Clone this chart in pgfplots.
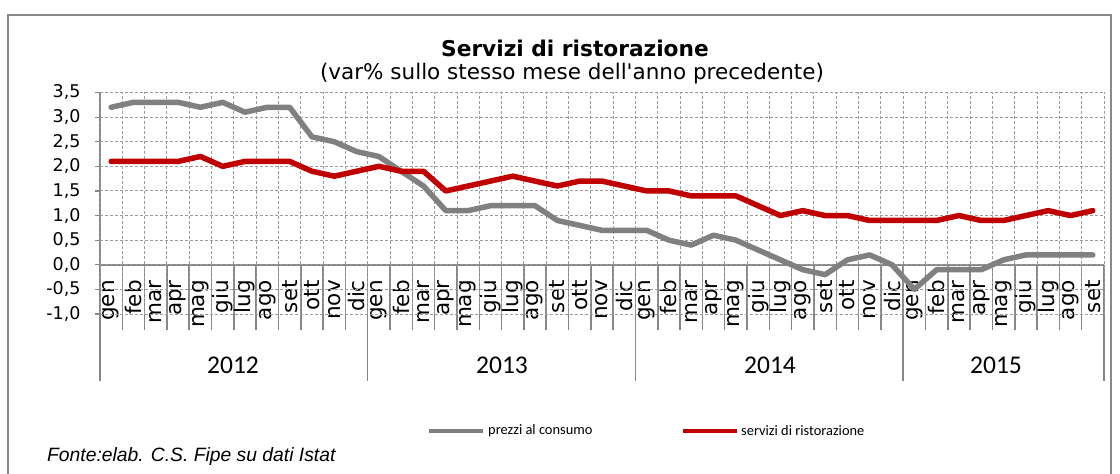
\documentclass[border=0pt]{standalone}
\usepackage{fontspec}
\setmainfont{DejaVu Sans}
\newfontfamily\calfont{Carlito}
\newfontfamily\arialfont{Liberation Sans}
\usepackage{pgfplots}
\pgfplotsset{compat=1.18}
\definecolor{cpi}{RGB}{128,128,128}
\definecolor{rist}{RGB}{192,0,0}
\definecolor{axgray}{RGB}{134,134,134}
\definecolor{gridgray}{RGB}{155,155,155}
\definecolor{framegray}{RGB}{137,137,137}
\begin{document}
\begin{tikzpicture}[x=1pt,y=1pt]
\useasboundingbox (0,0) rectangle (1120,474);
\draw[framegray, line width=1.3pt] (8,-10) -- (8,459) -- (1111,459) -- (1111,-10);
% titles
\node[anchor=base, inner sep=0pt, font=\fontsize{21.7}{24}\selectfont\bfseries] at (575,417) {Servizi di ristorazione};
\node[anchor=base, inner sep=0pt, font=\fontsize{21.5}{24}\selectfont] at (572,394) {(var\% sullo stesso mese dell\textquotesingle anno precedente)};
% category axis decorations
\def\cw{22.3111}
\foreach \k in {1,...,44} \draw[axgray, line width=1.5pt] ({100+\cw*\k},209) -- ({100+\cw*\k},144);
\foreach \k in {0,12,24,36,45} \draw[axgray, line width=1.5pt] ({100+\cw*\k},209) -- ({100+\cw*\k},93);
\draw[axgray, line width=1.5pt] (100,381.5) -- (100,93);
\draw[axgray, line width=1.5pt] (100,209) -- (1104,209);
\foreach \v in {0,...,9} \draw[axgray, line width=1.2pt] (95,{160+24.611*\v}) -- (100,{160+24.611*\v});
\foreach \m [count=\i from 0] in {gen,feb,mar,apr,mag,giu,lug,ago,set,ott,nov,dic,gen,feb,mar,apr,mag,giu,lug,ago,set,ott,nov,dic,gen,feb,mar,apr,mag,giu,lug,ago,set,ott,nov,dic,gen,feb,mar,apr,mag,giu,lug,ago,set}
  \node[rotate=90, anchor=east, inner sep=0pt, font=\fontsize{21.5}{22}\selectfont] at ({100+\cw*(\i+0.5)},194) {\m};
\node[font=\calfont\fontsize{25.5}{27}\selectfont] at (233,109) {2012};
\node[font=\calfont\fontsize{25.5}{27}\selectfont] at (502,109) {2013};
\node[font=\calfont\fontsize{25.5}{27}\selectfont] at (770,109) {2014};
\node[font=\calfont\fontsize{25.5}{27}\selectfont] at (996,109) {2015};
% legend
\draw[cpi, line width=3.5pt] (429,43) -- (483,43);
\node[anchor=west, inner sep=0pt, font=\calfont\fontsize{14.4}{15}\selectfont] at (488,43) {prezzi al consumo};
\draw[rist, line width=3.5pt] (683,43) -- (737,43);
\node[anchor=west, inner sep=0pt, font=\calfont\fontsize{14.4}{15}\selectfont] at (741,43) {servizi di ristorazione};
% source
\node[anchor=base west, inner sep=0pt, font=\arialfont\itshape\fontsize{19.3}{20}\selectfont] at (47,12) {Fonte:elab. C.S. Fipe su dati Istat};
\begin{axis}[at={(100pt,160pt)}, anchor=south west, scale only axis,
  width=1004pt, height=221.5pt,
  xmin=-0.5, xmax=44.5, ymin=-1, ymax=3.5,
  axis line style={draw=none}, major tick length=0pt,
  xtick={-0.5,0.5,...,44.5}, xticklabels={},
  ytick={-1,-0.5,0,0.5,1,1.5,2,2.5,3,3.5},
  grid=major, grid style={gridgray, dash pattern=on 3pt off 2pt, line width=0.9pt},
  yticklabel style={anchor=east, xshift=-16pt, font=\fontsize{17.5}{19}\selectfont,
    /pgf/number format/.cd, fixed, fixed zerofill, precision=1, use comma, assume math mode=true}]
\addplot[cpi, line width=5.5pt, line join=round, line cap=round] coordinates {
(0,3.2)(1,3.3)(2,3.3)(3,3.3)(4,3.2)(5,3.3)(6,3.1)(7,3.2)(8,3.2)(9,2.6)(10,2.5)(11,2.3)
(12,2.2)(13,1.9)(14,1.6)(15,1.1)(16,1.1)(17,1.2)(18,1.2)(19,1.2)(20,0.9)(21,0.8)(22,0.7)(23,0.7)
(24,0.7)(25,0.5)(26,0.4)(27,0.6)(28,0.5)(29,0.3)(30,0.1)(31,-0.1)(32,-0.2)(33,0.1)(34,0.2)(35,0.0)
(36,-0.5)(37,-0.1)(38,-0.1)(39,-0.1)(40,0.1)(41,0.2)(42,0.2)(43,0.2)(44,0.2)};
\addplot[rist, line width=5.5pt, line join=round, line cap=round] coordinates {
(0,2.1)(1,2.1)(2,2.1)(3,2.1)(4,2.2)(5,2.0)(6,2.1)(7,2.1)(8,2.1)(9,1.9)(10,1.8)(11,1.9)
(12,2.0)(13,1.9)(14,1.9)(15,1.5)(16,1.6)(17,1.7)(18,1.8)(19,1.7)(20,1.6)(21,1.7)(22,1.7)(23,1.6)
(24,1.5)(25,1.5)(26,1.4)(27,1.4)(28,1.4)(29,1.2)(30,1.0)(31,1.1)(32,1.0)(33,1.0)(34,0.9)(35,0.9)
(36,0.9)(37,0.9)(38,1.0)(39,0.9)(40,0.9)(41,1.0)(42,1.1)(43,1.0)(44,1.1)};
\end{axis}
\end{tikzpicture}
\end{document}
